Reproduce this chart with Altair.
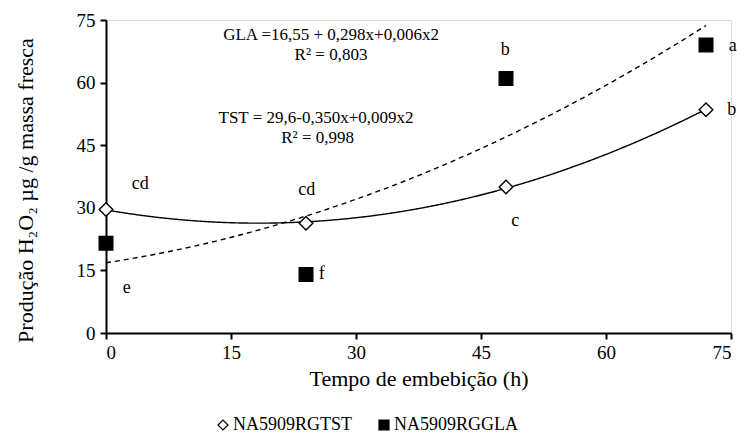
import altair as alt
import pandas as pd

# --- data ---
hours = [0, 24, 48, 72]
tst_values = [29.6, 26.3, 35.0, 53.5]
gla_values = [21.5, 14.0, 61.0, 69.0]
series_names = ["NA5909RGTST", "NA5909RGGLA"]

# letters of the mean comparison test
letter_text = ["cd", "cd", "c", "b", "e", "f", "b", "a"]
letter_x = [4.1, 24.1, 49.1, 75.1, 2.5, 25.9, 47.9, 75.2]
letter_y = [35.7, 34.3, 26.8, 53.4, 10.8, 14.1, 67.8, 68.8]

# regression equations
eq_text = ["GLA =16,55 + 0,298x+0,006x2", "R² = 0,803",
           "TST = 29,6-0,350x+0,009x2", "R² = 0,998"]
eq_x = [27.0, 27.0, 25.2, 25.4]
eq_y = [71.4, 66.6, 51.5, 46.7]

FONT = "Liberation Serif"

pts = pd.DataFrame({
    "x": hours * 2,
    "y": tst_values + gla_values,
    "serie": [series_names[0]] * 4 + [series_names[1]] * 4,
})
letters = pd.DataFrame({"x": letter_x, "y": letter_y, "t": letter_text})
eqs = pd.DataFrame({"x": eq_x, "y": eq_y, "t": eq_text})

xscale = alt.Scale(domain=[0, 75], nice=False, zero=False)
yscale = alt.Scale(domain=[0, 75], nice=False)

xax = alt.Axis(values=[0, 15, 30, 45, 60, 75], title="Tempo de embebição (h)",
               grid=False, domainColor="black", domainWidth=2, tickColor="black",
               tickWidth=2, tickSize=6, labelFont=FONT, labelFontSize=19,
               labelColor="black", titleFont=FONT, titleFontSize=22,
               titleFontWeight="normal", titleColor="black", labelPadding=4,
               titlePadding=6)
yax = alt.Axis(values=[0, 15, 30, 45, 60, 75], title="Produção H₂O₂ µg /g massa fresca",
               grid=False, domainColor="black", domainWidth=2, tickColor="black",
               tickWidth=2, tickSize=6, labelFont=FONT, labelFontSize=19,
               labelColor="black", titleFont=FONT, titleFontSize=22,
               titleFontWeight="normal", titleColor="black", labelPadding=5,
               titleX=-69, titleY=170)

base = alt.Chart(pts)

def fit(name, dash):
    return base.transform_filter(alt.datum.serie == name).transform_regression(
        "x", "y", method="poly", order=2, extent=[0, 72]
    ).mark_line(color="black", strokeWidth=1.4, strokeDash=dash).encode(
        x=alt.X("x:Q", scale=xscale, axis=xax),
        y=alt.Y("y:Q", scale=yscale, axis=yax),
    )

line_tst = fit(series_names[0], [1, 0])
line_gla = fit(series_names[1], [5, 4])

leg = alt.Legend(title=None, orient="none", legendX=108, legendY=396,
                 direction="horizontal", labelFont=FONT, labelFontSize=18,
                 labelColor="black", symbolSize=100, symbolStrokeColor="black",
                 symbolStrokeWidth=1.2, columnPadding=22, labelOffset=1)

points = base.mark_point(filled=True, strokeWidth=1.4, opacity=1, size=185).encode(
    x=alt.X("x:Q", scale=xscale),
    y=alt.Y("y:Q", scale=yscale),
    shape=alt.Shape("serie:N", scale=alt.Scale(domain=series_names, range=["diamond", "square"]),
                    legend=leg),
    fill=alt.Fill("serie:N", scale=alt.Scale(domain=series_names, range=["white", "black"]),
                  legend=leg),
    stroke=alt.Stroke("serie:N", scale=alt.Scale(domain=series_names, range=["black", "black"]),
                      legend=leg),
)

letter_marks = alt.Chart(letters).mark_text(font=FONT, fontSize=18, color="black").encode(
    x=alt.X("x:Q", scale=xscale), y=alt.Y("y:Q", scale=yscale), text="t:N")

eq_marks = alt.Chart(eqs).mark_text(font=FONT, fontSize=17, color="black").encode(
    x=alt.X("x:Q", scale=xscale), y=alt.Y("y:Q", scale=yscale), text="t:N")

chart = alt.layer(line_tst, line_gla, points, letter_marks, eq_marks).properties(
    width=625, height=313,
    autosize=alt.AutoSizeParams(type="none"),
    padding={"left": 106, "top": 20, "right": 14, "bottom": 113},
).configure_view(stroke=None).configure(background="white")

chart.save("out.html", embed_options={"renderer": "svg", "actions": False})
